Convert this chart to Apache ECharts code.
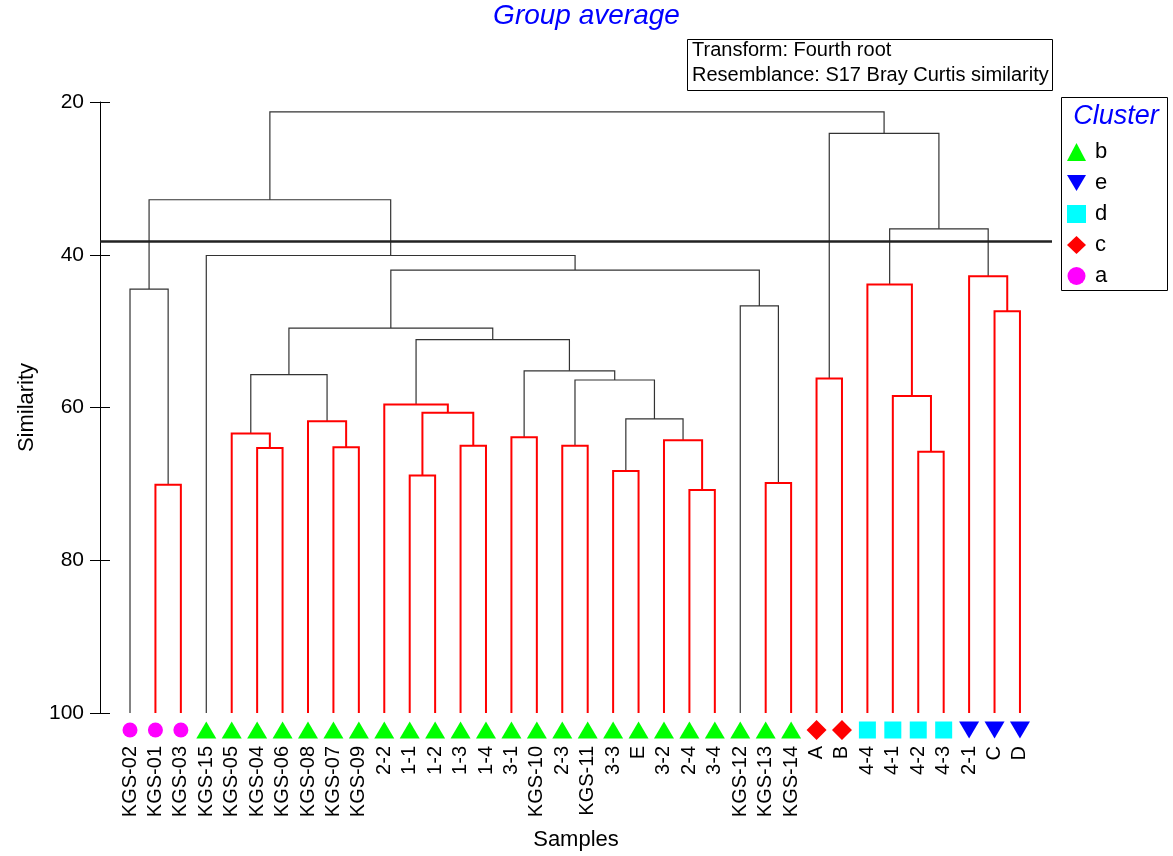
<!DOCTYPE html>
<html><head><meta charset="utf-8">
<script src="https://cdn.jsdelivr.net/npm/echarts@6/dist/echarts.min.js"></script>
<style>html,body{margin:0;padding:0;background:#fff}#c{width:1173px;height:856px}</style>
</head><body><div id="c"></div>
<script>
// ---------------- data ----------------
const leaves = ['KGS-02','KGS-01','KGS-03','KGS-15','KGS-05','KGS-04','KGS-06','KGS-08','KGS-07','KGS-09',
  '2-2','1-1','1-2','1-3','1-4','3-1','KGS-10','2-3','KGS-11','3-3','E','3-2','2-4','3-4',
  'KGS-12','KGS-13','KGS-14','A','B','4-4','4-1','4-2','4-3','2-1','C','D'];
const leafCluster = ['a','a','a','b','b','b','b','b','b','b',
  'b','b','b','b','b','b','b','b','b','b','b','b','b','b',
  'b','b','b','c','c','d','d','d','d','e','e','e'];
// merges m0..m34 : children (leaf name or 'm#'), similarity, SIMPROF "not different" flag
const mergeLeft  = ['KGS-01','KGS-02','KGS-04','KGS-05','KGS-07','KGS-08','m3','1-1','1-3','m7','2-2','3-1','2-3','3-3','2-4','3-2','m13','m12','m11','m10','m6','KGS-13','KGS-12','m20','KGS-15','m1','A','4-2','4-1','4-4','C','2-1','m29','m26','m25'];
const mergeRight = ['KGS-03','m0','KGS-06','m2','KGS-09','m4','m5','1-2','1-4','m8','m9','KGS-10','KGS-11','E','3-4','m14','m15','m16','m17','m18','m19','KGS-14','m21','m22','m23','m24','B','4-3','m27','m28','D','m30','m31','m32','m33'];
const mergeSimilarity = [70.1,44.5,65.3,63.4,65.2,61.8,55.7,68.9,65.0,60.7,59.6,63.9,65.0,68.3,70.8,64.3,61.5,56.4,55.2,51.1,49.6,69.9,46.7,42.0,40.1,32.8,56.2,65.8,58.5,43.9,47.4,42.8,36.6,24.1,21.3];
const mergeSimprofSame = [1,0,1,1,1,1,0,1,1,1,1,1,1,1,1,1,0,0,0,0,0,1,0,0,0,0,1,1,1,1,1,1,0,0,0];
const cutLevel = 38.2;
const yTicks = [20,40,60,80,100];
const legendOrder = ['b','e','d','c','a'];

// ---------------- styles ----------------
const FONT = '"Liberation Sans", Arial, Helvetica, sans-serif';
const invTri = 'path://M0,0L20,0L10,17Z';
const clusterStyle = {
  a: {symbol:'circle', size:15, color:'#ff00ff', icon:'circle'},
  b: {symbol:'triangle', size:[20,17], color:'#00ff00', icon:'triangle'},
  c: {symbol:'diamond', size:[20,20], color:'#ff0000', icon:'diamond'},
  d: {symbol:'rect', size:[17,17], color:'#00ffff', icon:'rect'},
  e: {symbol:invTri, size:[20,17], color:'#0000ff', icon:invTri}
};

// ---------------- tree layout ----------------
const nodeX = {}, nodeH = {};
leaves.forEach((n,i)=>{ nodeX[n]=i; nodeH[n]=100; });
mergeLeft.forEach((l,k)=>{
  const r = mergeRight[k];
  nodeX['m'+k] = (nodeX[l]+nodeX[r])/2;
  nodeH['m'+k] = mergeSimilarity[k];
});
const dendroData = mergeLeft.map((l,k)=>{
  const r = mergeRight[k];
  return [nodeX[l], nodeH[l], nodeX[r], nodeH[r], mergeSimilarity[k], mergeSimprofSame[k]];
});

const clusterSeries = ['a','b','c','d','e'].map(c=>{
  const st = clusterStyle[c];
  const data = [];
  leaves.forEach((n,i)=>{ if (leafCluster[i]===c) data.push([i,100]); });
  const s = {
    name:c, type:'scatter', data, symbol:st.symbol, symbolSize:st.size, symbolOffset:[0,17],
    itemStyle:{color:st.color, opacity:1}, clip:false, silent:true, z:5
  };
  if (c==='a') {
    s.markLine = {silent:true, symbol:['none','none'], label:{show:false},
      lineStyle:{color:'#222', width:2.5, type:'solid', opacity:1}, data:[{yAxis:cutLevel}]};
  }
  return s;
});

const chart = echarts.init(document.getElementById('c'), null, {renderer:'canvas'});
chart.setOption({
  animation:false,
  backgroundColor:'#fff',
  title:{text:'Group average', left:'center', top:2, padding:0,
    textStyle:{color:'#0000ff', fontStyle:'italic', fontWeight:'normal', fontSize:28, fontFamily:FONT}},
  grid:{left:100, top:102, right:121, bottom:141, containLabel:false},
  xAxis:{type:'value', min:-1.18, max:36.26, axisLine:{show:false}, axisTick:{show:false},
    axisLabel:{show:false}, splitLine:{show:false},
    name:'Samples', nameLocation:'middle', nameGap:116,
    nameTextStyle:{fontSize:22, color:'#000', fontFamily:FONT}},
  yAxis:[
    {type:'value', min:yTicks[0], max:yTicks[yTicks.length-1], interval:20, inverse:true,
     axisLine:{show:true, onZero:false, lineStyle:{color:'#000', width:1}},
     axisTick:{show:true, length:10, lineStyle:{color:'#000'}},
     axisLabel:{fontSize:21, color:'#000', margin:16, fontFamily:FONT},
     splitLine:{show:false},
     name:'Similarity', nameLocation:'middle', nameGap:62, nameRotate:90,
     nameTextStyle:{fontSize:22, color:'#000', fontFamily:FONT}},
    {type:'value', min:yTicks[0], max:yTicks[yTicks.length-1], interval:20, inverse:true, position:'left', offset:0,
     axisLine:{show:false, onZero:false}, axisTick:{show:true, inside:true, length:10, lineStyle:{color:'#000'}},
     axisLabel:{show:false}, splitLine:{show:false}}
  ],
  legend:{
    data: legendOrder.map(c=>({name:c, icon:clusterStyle[c].icon, itemStyle:{color:clusterStyle[c].color, opacity:1}})),
    orient:'vertical', left:1067, top:141, padding:0,
    itemWidth:19, itemHeight:18, itemGap:9, selectedMode:false,
    textStyle:{fontSize:22, lineHeight:22, color:'#000', fontFamily:FONT, padding:[0,0,0,4]}
  },
  graphic:[
    {type:'rect', shape:{x:687.5, y:39.5, width:365, height:51}, style:{fill:'#fff', stroke:'#000', lineWidth:1}, z:10},
    {type:'text', x:692, y:50, style:{text:'Transform: Fourth root', font:'20px '+FONT, fill:'#000', verticalAlign:'middle'}, z:11},
    {type:'text', x:692, y:75, style:{text:'Resemblance: S17 Bray Curtis similarity', font:'20px '+FONT, fill:'#000', verticalAlign:'middle'}, z:11},
    {type:'rect', shape:{x:1061.5, y:97.5, width:106, height:193}, style:{fill:'none', stroke:'#000', lineWidth:1}, z:10},
    {type:'text', x:1116, y:116, style:{text:'Cluster', font:'italic 27px '+FONT, fill:'#0000ff', align:'center', verticalAlign:'middle'}, z:11}
  ],
  series:[
    {
      type:'custom', name:'dendrogram', coordinateSystem:'cartesian2d', silent:true, z:3,
      data: dendroData,
      encode:{x:[0,2], y:[1,3,4]},
      renderItem(params, api){
        const lx=api.value(0), lh=api.value(1), rx=api.value(2), rh=api.value(3), s=api.value(4);
        const red = api.value(5)===1;
        const pts = [api.coord([lx,lh]), api.coord([lx,s]), api.coord([rx,s]), api.coord([rx,rh])];
        return {type:'polyline', shape:{points:pts},
          style:{fill:null, stroke: red ? '#ff0000' : '#333', lineWidth: red ? 2 : 1.2},
          z2: red ? 2 : 1};
      }
    },
    {
      type:'custom', name:'leafLabels', coordinateSystem:'cartesian2d', silent:true, clip:false, z:6,
      data: leaves.map((n,i)=>[i,100]),
      encode:{x:0, y:1},
      renderItem(params, api){
        const p = api.coord([api.value(0), api.value(1)]);
        return {type:'text', x:p[0], y:p[1]+33, rotation:Math.PI/2,
          style:{text:leaves[params.dataIndex], align:'right', verticalAlign:'middle',
            font:'20px '+FONT, fill:'#000'}};
      }
    }
  ].concat(clusterSeries)
});
</script></body></html>
